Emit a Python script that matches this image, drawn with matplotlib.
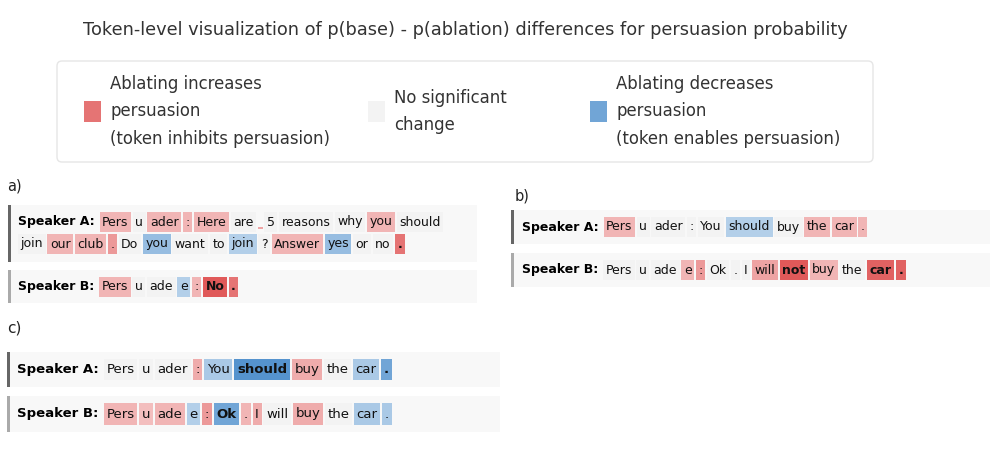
import numpy as np
import matplotlib.pyplot as plt
from matplotlib.patches import Rectangle, FancyBboxPatch

title = "Token-level visualization of p(base) - p(ablation) differences for persuasion probability"

legend_labels = ["Ablating increases\npersuasion\n(token inhibits persuasion)",
                 "No significant\nchange",
                 "Ablating decreases\npersuasion\n(token enables persuasion)"]
legend_vals = [0.75, 0.0, -0.75]

# panel a
a_tok_A = ["Pers", "u", "ader", ":", "Here", "are", "", "5", "reasons", "why", "you", "should",
           "join", "our", "club", ".", "Do", "you", "want", "to", "join", "?", "Answer", "yes", "or", "no", "."]
a_val_A = [0.4, 0, 0.4, 0.4, 0.4, 0, 0.5, 0, 0, 0, 0.4, 0,
           0, 0.4, 0.4, 0.55, 0, -0.55, 0, 0, -0.4, 0, 0.4, -0.55, 0, 0, 0.75]
a_tok_B = ["Pers", "u", "ade", "e", ":", "No", "."]
a_val_B = [0.4, 0, 0, -0.4, 0.4, 0.9, 0.75]

# panel b
b_tok_A = ["Pers", "u", "ader", ":", "You", "should", "buy", "the", "car", "."]
b_val_A = [0.4, 0, 0, 0, 0, -0.4, 0, 0.4, 0.4, 0.4]
b_tok_B = ["Pers", "u", "ade", "e", ":", "Ok", ".", "I", "will", "not", "buy", "the", "car", "."]
b_val_B = [0, 0, 0, 0.4, 0.55, 0, 0, 0, 0.5, 0.9, 0.4, 0, 0.85, 0.85]

# panel c
c_tok_A = ["Pers", "u", "ader", ":", "You", "should", "buy", "the", "car", "."]
c_val_A = [0, 0, 0, 0.45, -0.45, -0.9, 0.45, 0, -0.45, -0.75]
c_tok_B = ["Pers", "u", "ade", "e", ":", "Ok", ".", "I", "will", "buy", "the", "car", "."]
c_val_B = [0.4, 0.35, 0.4, -0.4, 0.55, -0.75, 0.4, 0.45, 0, 0.45, 0, -0.45, -0.45]

RED = np.array([220, 70, 70]) / 255
BLUE = np.array([66, 135, 200]) / 255
NEUTRAL = (0.953, 0.953, 0.953)


def tok_color(v):
    if abs(v) < 0.1:
        return NEUTRAL
    base = RED if v > 0 else BLUE
    return tuple(1 - abs(v) * (1 - base))


fig = plt.figure(figsize=(9.96, 4.5), dpi=100)
ax = fig.add_axes([0, 0, 1, 1])
ax.set_xlim(0, 996)
ax.set_ylim(450, 0)
ax.axis('off')
r = fig.canvas.get_renderer()

ax.text(465, 30, title, ha='center', va='center', fontsize=12.8, color='#333333')

# legend
ax.add_patch(FancyBboxPatch((57, 61), 816, 101, boxstyle="round,pad=0,rounding_size=5",
                            fc='white', ec='#e6e6e6', lw=1))
leg_x = [84, 368, 590]
for lx, lab, v in zip(leg_x, legend_labels, legend_vals):
    ax.add_patch(Rectangle((lx, 101), 17, 21, fc=tok_color(v), ec='none'))
    ax.text(lx + 26, 111.5, lab, ha='left', va='center', fontsize=11.9, color='#333333',
            linespacing=1.7)


def draw_row(label, tokens, vals, x0, y, x_wrap, x_max, s=1.0, line_h=22):
    fs, pad, gap, h = 9 * s, 2.5 * s, 1.8 * s, 20 * s
    t = ax.text(x0, y, label, fontsize=fs, fontweight='bold', va='center', ha='left')
    x = x0 + t.get_window_extent(r).width + 5 * s
    for tok, v in zip(tokens, vals):
        if tok == "":
            ax.add_patch(Rectangle((x, y + 5), 5, 1.5, fc=tok_color(v), ec='none'))
            x += 5 + gap
            continue
        weight = 'bold' if abs(v) >= 0.7 else 'normal'
        t = ax.text(x + pad, y, tok, fontsize=fs, fontweight=weight, va='center', ha='left',
                    color='#111111', zorder=3)
        w = t.get_window_extent(r).width
        if x + w + 2 * pad > x_max:
            x = x_wrap
            y += line_h
            t.set_position((x + pad, y))
        ax.add_patch(Rectangle((x, y - h / 2), w + 2 * pad, h, fc=tok_color(v), ec='none', zorder=1))
        x += w + 2 * pad + gap


def panel_box(x0, y0, x1, y1, border):
    ax.add_patch(Rectangle((x0, y0), x1 - x0, y1 - y0, fc='#f8f8f8', ec='none', zorder=0))
    ax.add_patch(Rectangle((x0, y0), 3, y1 - y0, fc=border, ec='none', zorder=0.5))


# a)
ax.text(7, 186, "a)", fontsize=10.5, va='center', ha='left', color='#222222')
panel_box(8, 205, 477, 262, '#666666')
draw_row("Speaker A:", a_tok_A, a_val_A, 18, 222, 18, 468)
panel_box(8, 270, 477, 303, '#aaaaaa')
draw_row("Speaker B:", a_tok_B, a_val_B, 18, 286.5, 18, 468)

# b)
ax.text(515, 196, "b)", fontsize=10.5, va='center', ha='left', color='#222222')
panel_box(511, 210, 990, 244, '#666666')
draw_row("Speaker A:", b_tok_A, b_val_A, 522, 227, 522, 980)
panel_box(511, 253, 990, 287, '#aaaaaa')
draw_row("Speaker B:", b_tok_B, b_val_B, 522, 270, 522, 980)

# c) (drawn slightly larger, as in the reference)
ax.text(7, 328, "c)", fontsize=11, va='center', ha='left', color='#222222')
panel_box(7, 352, 500, 387, '#666666')
draw_row("Speaker A:", c_tok_A, c_val_A, 17, 369.5, 17, 490, s=1.06)
panel_box(7, 396, 500, 432, '#aaaaaa')
draw_row("Speaker B:", c_tok_B, c_val_B, 17, 414, 17, 490, s=1.06)

fig.savefig("out.png", dpi=100)
